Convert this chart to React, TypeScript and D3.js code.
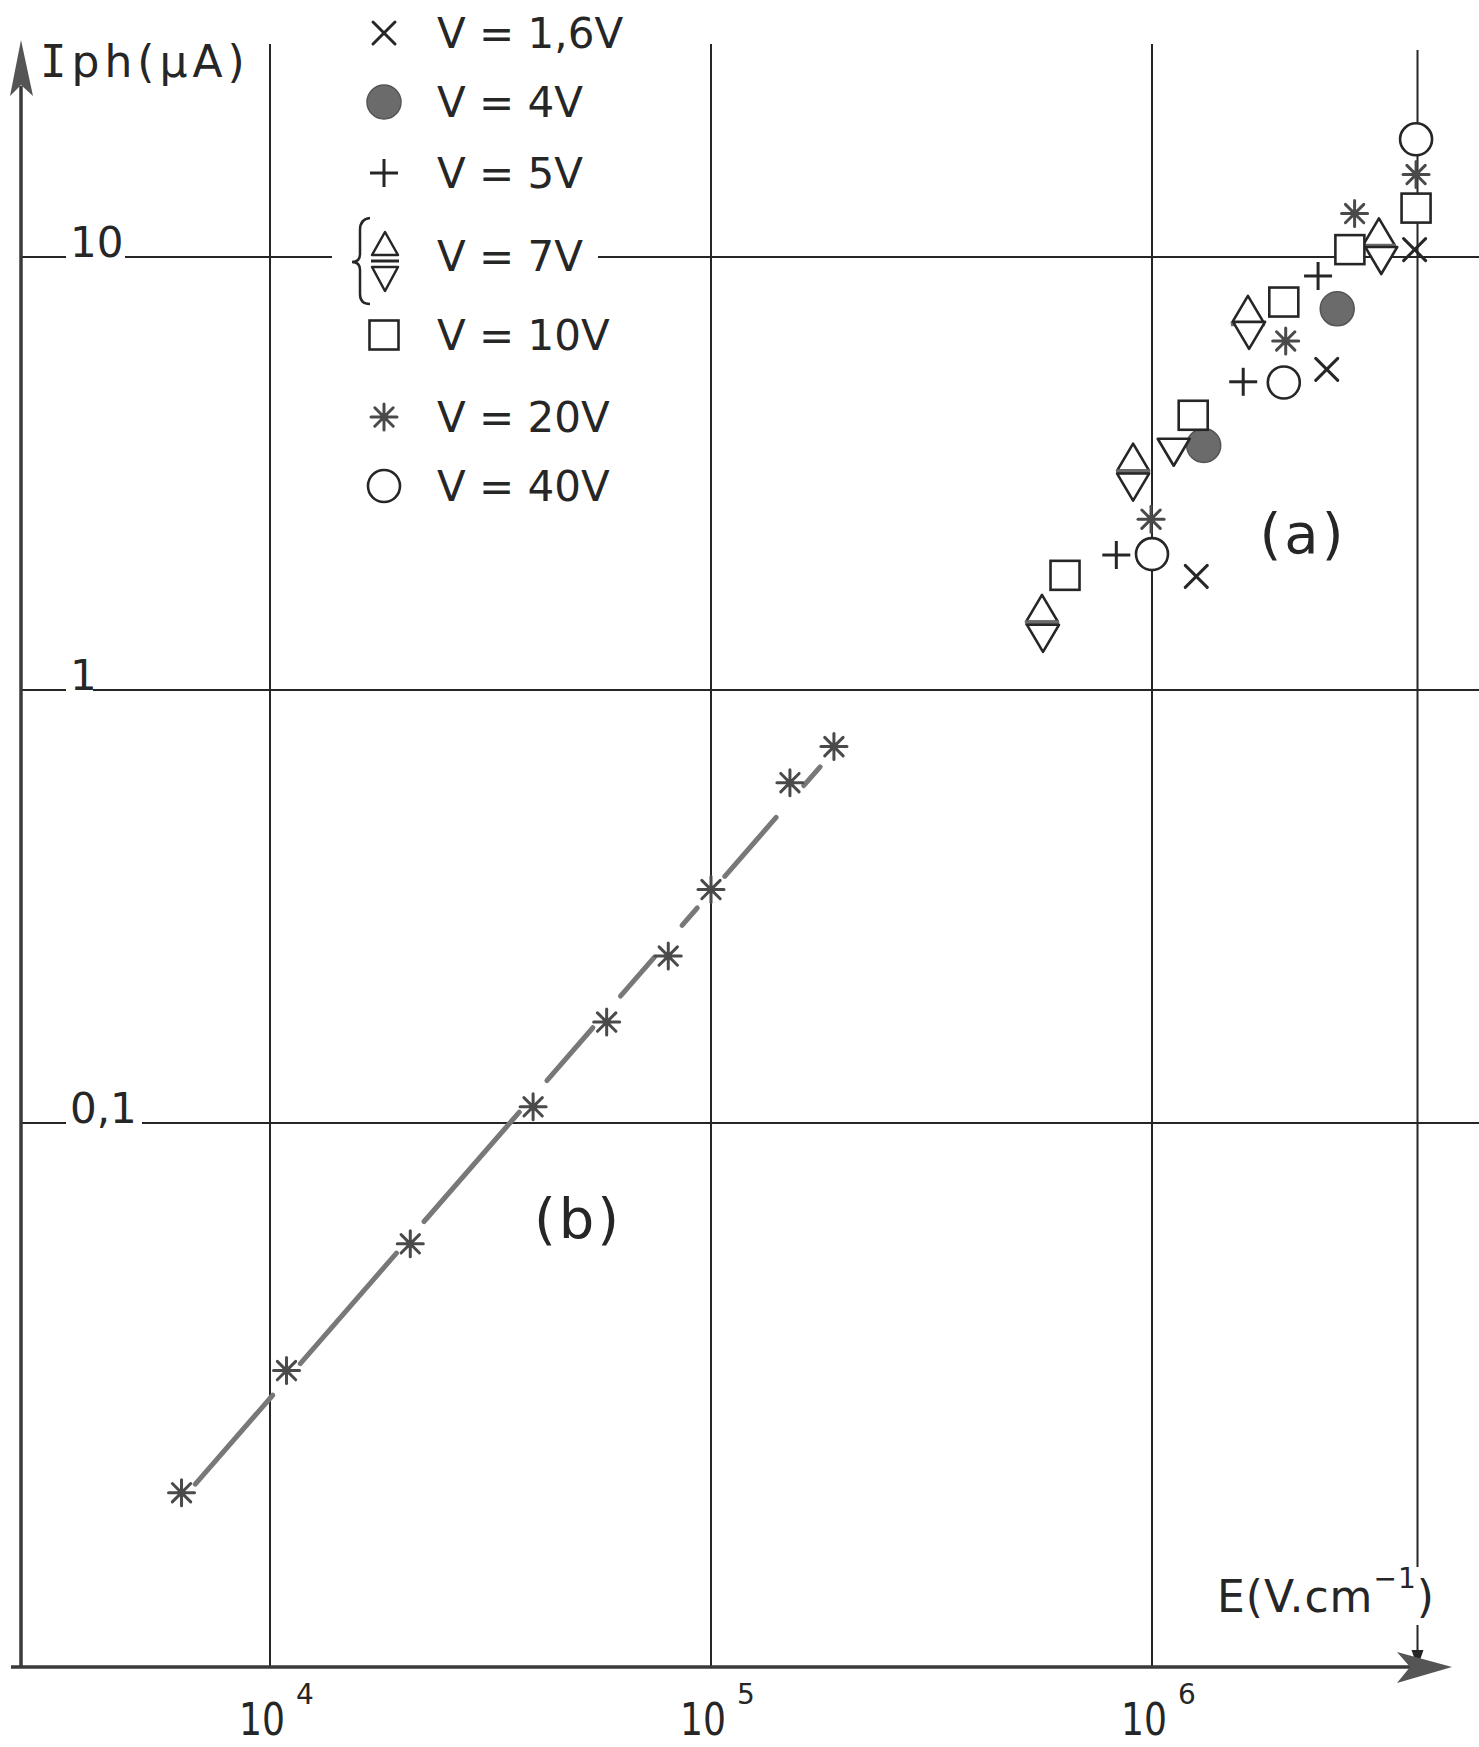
import * as d3 from "d3";

// curve (b): V = 20V
const bField = [6.3e3, 1.09e4, 2.08e4, 3.95e4, 5.8e4, 8.0e4, 1.0e5, 1.51e5, 1.9e5];
const bCurrent = [0.014, 0.0268, 0.0526, 0.109, 0.171, 0.243, 0.346, 0.611, 0.74];

// curve (a): one array pair per bias voltage
const v16Field = [3.94e6, 2.49e6, 1.26e6];
const v16Current = [10.4, 5.5, 1.83];
const v4Field = [2.63e6, 1.31e6];
const v4Current = [7.59, 3.67];
const v5Field = [2.38e6, 1.61e6, 8.3e5];
const v5Current = [9.04, 5.15, 2.05];
const v7UpField = [3.27e6, 1.65e6, 9.06e5, 5.63e5];
const v7UpCurrent = [11.4, 7.55, 3.44, 1.54];
const v7DownField = [3.31e6, 1.66e6, 1.12e6, 9.06e5, 5.66e5];
const v7DownCurrent = [9.84, 6.61, 3.55, 2.95, 1.32];
const v10Field = [3.97e6, 2.81e6, 1.99e6, 1.24e6, 6.35e5];
const v10Current = [12.97, 10.4, 7.87, 4.31, 1.84];
const v20Field = [3.97e6, 2.88e6, 2.01e6, 9.95e5];
const v20Current = [15.5, 12.6, 6.4, 2.48];
const v40Field = [3.97e6, 1.99e6, 1.0e6];
const v40Current = [18.7, 5.13, 2.06];

const legendLabels = ["V = 1,6V", "V = 4V", "V = 5V", "V = 7V", "V = 10V", "V = 20V", "V = 40V"];
const legendMarkers = ["cross", "dot", "plus", "tri", "square", "star", "circle"];

const xTicks = [1e4, 1e5, 1e6];
const xTickExp = ["4", "5", "6"];
const yTicks = [10, 1, 0.1];
const yTickLabels = ["10", "1", "0,1"];
const fieldMark = 4e6;

const W = 1479;
const H = 1747;
const FONT = "'DejaVu Sans', sans-serif";
const INK = "#262626";
const GREY = "#6b6b6b";

const x = d3.scaleLog().domain([1e4, 1e6]).range([270, 1152]);
const y = d3.scaleLog().domain([0.1, 10]).range([1123, 257]);

function Marker({ type, cx, cy }: { type: string; cx: number; cy: number }) {
  const sw = 2.6;
  if (type === "cross") {
    const r = 11;
    return (
      <g stroke={INK} strokeWidth={3} strokeLinecap="round">
        <line x1={cx - r} y1={cy - r} x2={cx + r} y2={cy + r} />
        <line x1={cx - r} y1={cy + r} x2={cx + r} y2={cy - r} />
      </g>
    );
  }
  if (type === "dot") {
    return <circle cx={cx} cy={cy} r={17} fill={GREY} stroke="#555" strokeWidth={1.5} />;
  }
  if (type === "plus") {
    const r = 14;
    return (
      <g stroke={INK} strokeWidth={3}>
        <line x1={cx - r} y1={cy} x2={cx + r} y2={cy} />
        <line x1={cx} y1={cy - r} x2={cx} y2={cy + r} />
      </g>
    );
  }
  if (type === "up") {
    return (
      <g>
        <path
          d={`M${cx},${cy - 14}L${cx + 16},${cy + 13}L${cx - 16},${cy + 13}Z`}
          fill="#fff"
          stroke={INK}
          strokeWidth={sw}
          strokeLinejoin="round"
        />
        <line x1={cx - 17} y1={cy + 14} x2={cx + 17} y2={cy + 14} stroke={GREY} strokeWidth={5} />
      </g>
    );
  }
  if (type === "down") {
    return (
      <path
        d={`M${cx - 16},${cy - 13}L${cx + 16},${cy - 13}L${cx},${cy + 14}Z`}
        fill="#fff"
        stroke={INK}
        strokeWidth={sw}
        strokeLinejoin="round"
      />
    );
  }
  if (type === "square") {
    return <rect x={cx - 14.5} y={cy - 14.5} width={29} height={29} fill="#fff" stroke={INK} strokeWidth={sw} />;
  }
  if (type === "star") {
    const r = 13;
    return (
      <g stroke="#4a4a4a" strokeWidth={3} strokeLinecap="round">
        {[0, 45, 90, 135].map((a) => {
          const dx = r * Math.cos((a * Math.PI) / 180);
          const dy = r * Math.sin((a * Math.PI) / 180);
          return <line key={a} x1={cx - dx} y1={cy - dy} x2={cx + dx} y2={cy + dy} />;
        })}
        <circle cx={cx} cy={cy} r={4} fill="#4a4a4a" stroke="none" />
      </g>
    );
  }
  // open circle
  return <circle cx={cx} cy={cy} r={16} fill="#fff" stroke={INK} strokeWidth={sw} />;
}

const aSeries = [
  { type: "cross", field: v16Field, current: v16Current },
  { type: "dot", field: v4Field, current: v4Current },
  { type: "plus", field: v5Field, current: v5Current },
  { type: "up", field: v7UpField, current: v7UpCurrent },
  { type: "down", field: v7DownField, current: v7DownCurrent },
  { type: "square", field: v10Field, current: v10Current },
  { type: "star", field: v20Field, current: v20Current },
  { type: "circle", field: v40Field, current: v40Current },
];

export default function App() {
  // straight fit through curve (b) in log-log space, broken around each star
  const lx = bField.map((e) => Math.log10(e));
  const ly = bCurrent.map((c) => Math.log10(c));
  const mx = d3.mean(lx) as number;
  const my = d3.mean(ly) as number;
  const slope =
    (d3.sum(lx, (v, i) => (v - mx) * (ly[i] - my)) as number) /
    (d3.sum(lx, (v) => (v - mx) * (v - mx)) as number);
  const fitPt = (e: number) => [x(e), y(Math.pow(10, my + slope * (Math.log10(e) - mx)))];
  const fitPts = bField.map(fitPt);
  const gap = 21;
  const dashes = fitPts.slice(1).map((p, i) => {
    const q = fitPts[i];
    const dx = p[0] - q[0];
    const dy = p[1] - q[1];
    const len = Math.hypot(dx, dy);
    const ux = dx / len;
    const uy = dy / len;
    return [q[0] + ux * gap, q[1] + uy * gap, p[0] - ux * gap, p[1] - uy * gap];
  });
  const bPts = bField.map((e, i) => [x(e), y(bCurrent[i])]);

  const axisY = 1667;
  const axisX = 21;
  const legendBase = [48, 117, 188, 271, 350, 432, 501];
  const labelGapEnd = [125, 93, 142];

  return (
    <svg
      width={W}
      height={H}
      viewBox={`0 0 ${W} ${H}`}
      style={{ position: "absolute", left: 0, top: 0, background: "#fff" }}
    >
      <rect width={W} height={H} fill="#fff" />

      {/* vertical grid */}
      {xTicks.map((t) => (
        <line key={t} x1={x(t)} y1={44} x2={x(t)} y2={axisY} stroke={INK} strokeWidth={2} />
      ))}
      <line x1={x(fieldMark)} y1={50} x2={x(fieldMark)} y2={1567} stroke={INK} strokeWidth={2} />
      <line x1={x(fieldMark)} y1={1625} x2={x(fieldMark)} y2={1660} stroke={INK} strokeWidth={2} />
      <path
        d={`M${x(fieldMark)},${1667}L${x(fieldMark) - 6},${1650}L${x(fieldMark) + 6},${1650}Z`}
        fill={INK}
      />

      {/* horizontal grid with inline labels */}
      {yTicks.map((t, i) => (
        <g key={t}>
          <line x1={axisX} y1={y(t)} x2={66} y2={y(t)} stroke={INK} strokeWidth={2} />
          {i === 0 ? (
            <>
              <line x1={labelGapEnd[i]} y1={y(t)} x2={332} y2={y(t)} stroke={INK} strokeWidth={2} />
              <line x1={598} y1={y(t)} x2={W} y2={y(t)} stroke={INK} strokeWidth={2} />
            </>
          ) : (
            <line x1={labelGapEnd[i]} y1={y(t)} x2={W} y2={y(t)} stroke={INK} strokeWidth={2} />
          )}
          <text x={70} y={y(t)} fontFamily={FONT} fontSize={42} fill={INK}>
            {yTickLabels[i]}
          </text>
        </g>
      ))}

      {/* axes */}
      <line x1={axisX} y1={86} x2={axisX} y2={axisY} stroke="#3a3a3a" strokeWidth={3.5} />
      <path d={`M${axisX},40L${axisX + 12},96L${axisX},85L${axisX - 11},96Z`} fill="#555" />
      <line x1={11} y1={axisY} x2={1412} y2={axisY} stroke="#3a3a3a" strokeWidth={3.5} />
      <path d="M1452,1667L1397,1652L1410,1667L1397,1683Z" fill="#555" />

      {/* axis labels */}
      <text x={40} y={77} fontFamily={FONT} fontSize={44} fill={INK} letterSpacing={5}>
        <tspan fontFamily="'DejaVu Sans Mono', monospace">I</tspan>ph(µA)
      </text>
      <text x={1217} y={1612} fontFamily={FONT} fontSize={44} fill={INK} letterSpacing={1}>
        E(V.cm
        <tspan dy={-24} fontSize={28}>
          −1
        </tspan>
        <tspan dy={24}>)</tspan>
      </text>
      {xTicks.map((t, i) => (
        <g key={t} fill={INK} fontFamily={FONT}>
          <text
            x={x(t) - 8}
            y={1735}
            fontSize={44}
            textAnchor="middle"
            textLength={46}
            lengthAdjust="spacingAndGlyphs"
          >
            10
          </text>
          <text x={x(t) + 26} y={1704} fontSize={28}>
            {xTickExp[i]}
          </text>
        </g>
      ))}

      {/* curve (b) */}
      {dashes.map((d, i) => (
        <line
          key={i}
          x1={d[0]}
          y1={d[1]}
          x2={d[2]}
          y2={d[3]}
          stroke="#787878"
          strokeWidth={5}
          strokeLinecap="round"
        />
      ))}
      {bPts.map((p, i) => (
        <Marker key={i} type="star" cx={p[0]} cy={p[1]} />
      ))}

      {/* curve (a) */}
      {aSeries.map((s) =>
        s.field.map((e, i) => (
          <Marker key={s.type + i} type={s.type} cx={x(e)} cy={y(s.current[i])} />
        ))
      )}

      <text x={1303} y={553} fontFamily={FONT} fontSize={56} fill={INK} textAnchor="middle" letterSpacing={3}>
        (a)
      </text>
      <text x={578} y={1238} fontFamily={FONT} fontSize={56} fill={INK} textAnchor="middle" letterSpacing={3}>
        (b)
      </text>

      {/* legend */}
      {legendLabels.map((lab, i) => {
        const base = legendBase[i];
        const m = legendMarkers[i];
        return (
          <g key={lab}>
            {m === "tri" ? (
              <>
                <path
                  d="M370,218 Q360,219 360,230 L360,254 Q360,262 352,262 Q360,262 360,270 L360,294 Q360,304 370,304"
                  fill="none"
                  stroke={INK}
                  strokeWidth={2.5}
                />
                <path d="M385,232L398,255L372,255Z" fill="#fff" stroke={INK} strokeWidth={2.5} strokeLinejoin="round" />
                <line x1={371} y1={261} x2={399} y2={261} stroke={INK} strokeWidth={3} />
                <path d="M372,267L398,267L385,291Z" fill="#fff" stroke={INK} strokeWidth={2.5} strokeLinejoin="round" />
              </>
            ) : (
              <Marker type={m} cx={384} cy={base - 15} />
            )}
            <text x={437} y={base} fontFamily={FONT} fontSize={42} fill={INK}>
              {lab}
            </text>
          </g>
        );
      })}
    </svg>
  );
}
